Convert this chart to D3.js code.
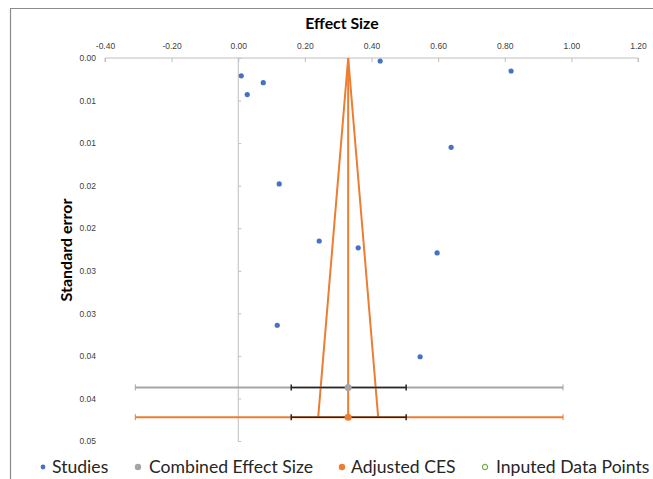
<!DOCTYPE html>
<html>
<head>
<meta charset="utf-8">
<script src="https://cdn.jsdelivr.net/npm/d3@7"></script>
<style>
	body { margin: 0; background: #fff; }
	svg { font-family: Lato, "Open Sans", sans-serif; }
</style>
</head>
<body>
<svg></svg>
<script>
// Funnel plot data
const studyEffect = [0.426, 0.819, 0.009, 0.075, 0.027, 0.639, 0.123, 0.243, 0.360, 0.597, 0.117, 0.546];
const studySE = [0.00035, 0.00153, 0.0021, 0.0029, 0.0043, 0.0105, 0.0148, 0.0215, 0.0223, 0.0229, 0.0314, 0.0351];

const combined = {effect: 0.33, se: 0.0387, ciLow: 0.159, ciHigh: 0.504, piLow: -0.309, piHigh: 0.975};
const adjusted = {effect: 0.33, se: 0.0422, ciLow: 0.159, ciHigh: 0.504, piLow: -0.309, piHigh: 0.975};
const funnelBottom = [0.24, 0.42];

const xTicks = [-0.4, -0.2, 0, 0.2, 0.4, 0.6, 0.8, 1.0, 1.2];
const xTickLabels = ["-0.40", "-0.20", "0.00", "0.20", "0.40", "0.60", "0.80", "1.00", "1.20"];
const yTicks = [0, 0.005, 0.01, 0.015, 0.02, 0.025, 0.03, 0.035, 0.04, 0.045];
const yTickLabels = ["0.00", "0.01", "0.01", "0.02", "0.02", "0.03", "0.03", "0.04", "0.04", "0.05"];

const legendItems = ["Studies", "Combined Effect Size", "Adjusted CES", "Inputed Data Points"];

const width = 653, height = 479;
const blue = "#4472c4", grey = "#a5a5a5", orange = "#ed7d31", green = "#70ad47";

const svg = d3.select("svg").attr("width", width).attr("height", height);

// chart frame
svg.append("path")
	.attr("d", `M10.5,${height + 5} V8.5 H${width + 5}`)
	.attr("fill", "none")
	.attr("stroke", "#8c8c8c")
	.attr("stroke-width", 1.2);

const x = d3.scaleLinear().domain([-0.4, 1.2]).range([105, 638]);
const y = d3.scaleLinear().domain([0, 0.045]).range([58, 441]);

// top axis
svg.append("g")
	.attr("transform", `translate(0, ${y(0)})`)
	.call(d3.axisTop(x).tickValues(xTicks).tickSize(-4).tickPadding(9).tickFormat((d, i) => xTickLabels[i]))
	.call(g => g.select(".domain").attr("stroke", "#bfbfbf").attr("d", `M${x(-0.4)},4V0H${x(1.2)}V4`))
	.call(g => g.selectAll(".tick line").attr("stroke", "#bfbfbf"))
	.call(g => g.selectAll("text").attr("fill", "#404040").style("font-size", "8.5px"));

// vertical axis line through zero
svg.append("g")
	.attr("transform", `translate(${x(0)}, 0)`)
	.call(d3.axisRight(y).tickValues(yTicks).tickSize(3).tickFormat(""))
	.call(g => g.select(".domain").attr("stroke", "#bfbfbf").attr("d", `M0,${y(0)}V${y(0.045)}`))
	.call(g => g.selectAll(".tick line").attr("stroke", "#bfbfbf"));

// y tick labels at low position
svg.append("g")
	.attr("transform", "translate(96, 0)")
	.call(d3.axisLeft(y).tickValues(yTicks).tickSize(0).tickPadding(0).tickFormat((d, i) => yTickLabels[i]))
	.call(g => g.select(".domain").remove())
	.call(g => g.selectAll("text").attr("fill", "#404040").style("font-size", "8.5px"));

// titles
svg.append("text")
	.attr("x", 342).attr("y", 29)
	.attr("text-anchor", "middle")
	.style("font-size", "15.8px").style("font-weight", "bold")
	.text("Effect Size");

svg.append("text")
	.attr("transform", `translate(72, 250) rotate(-90)`)
	.attr("text-anchor", "middle")
	.style("font-size", "16px").style("font-weight", "bold")
	.text("Standard error");

// funnel lines
const lineColor = orange;
svg.append("path")
	.attr("d", d3.line()([
		[x(funnelBottom[0]), y(adjusted.se)],
		[x(adjusted.effect), y(0)],
		[x(funnelBottom[1]), y(adjusted.se)]
	]))
	.attr("fill", "none").attr("stroke", lineColor).attr("stroke-width", 2);

svg.append("line")
	.attr("x1", x(adjusted.effect)).attr("x2", x(adjusted.effect))
	.attr("y1", y(0)).attr("y2", y(adjusted.se))
	.attr("stroke", lineColor).attr("stroke-width", 2);

// interval bars
function intervalBar(d, color) {
	const g = svg.append("g");
	const yy = y(d.se);
	g.append("line")
		.attr("x1", x(d.piLow)).attr("x2", x(d.piHigh))
		.attr("y1", yy).attr("y2", yy)
		.attr("stroke", color).attr("stroke-width", 2);
	[d.piLow, d.piHigh].forEach(v => {
		g.append("line")
			.attr("x1", x(v)).attr("x2", x(v))
			.attr("y1", yy - 3).attr("y2", yy + 3)
			.attr("stroke", color).attr("stroke-width", 1);
	});
	g.append("line")
		.attr("x1", x(d.ciLow)).attr("x2", x(d.ciHigh))
		.attr("y1", yy).attr("y2", yy)
		.attr("stroke", "#262626").attr("stroke-width", 1.5);
	[d.ciLow, d.ciHigh].forEach(v => {
		g.append("line")
			.attr("x1", x(v)).attr("x2", x(v))
			.attr("y1", yy - 3).attr("y2", yy + 3)
			.attr("stroke", "#262626").attr("stroke-width", 1.5);
	});
	g.append("circle")
		.attr("cx", x(d.effect)).attr("cy", yy)
		.attr("r", 3.5).attr("fill", color);
}
intervalBar(combined, grey);
intervalBar(adjusted, orange);

// study points
svg.append("g").selectAll("circle")
	.data(studyEffect)
	.join("circle")
	.attr("cx", d => x(d))
	.attr("cy", (d, i) => y(studySE[i]))
	.attr("r", 2.6)
	.attr("fill", blue);

// legend
const legendX = [43, 138, 342, 485];
const legendColors = [blue, grey, orange, green];
const legend = svg.append("g").attr("transform", "translate(0, 467)");
legendItems.forEach((name, i) => {
	const item = legend.append("g").attr("transform", `translate(${legendX[i]}, 0)`);
	if (i === 3) {
		item.append("circle").attr("r", 2.6).attr("cy", 0)
			.attr("fill", "none").attr("stroke", legendColors[i]).attr("stroke-width", 1.2);
	} else {
		item.append("circle").attr("r", i === 0 ? 2.4 : 3.2).attr("cy", 0)
			.attr("fill", legendColors[i]);
	}
	item.append("text")
		.attr("x", i === 0 || i === 2 ? 9 : 11).attr("y", 6)
		.style("font-size", "17.6px").attr("fill", "#262626")
		.text(name);
});
</script>
</body>
</html>
